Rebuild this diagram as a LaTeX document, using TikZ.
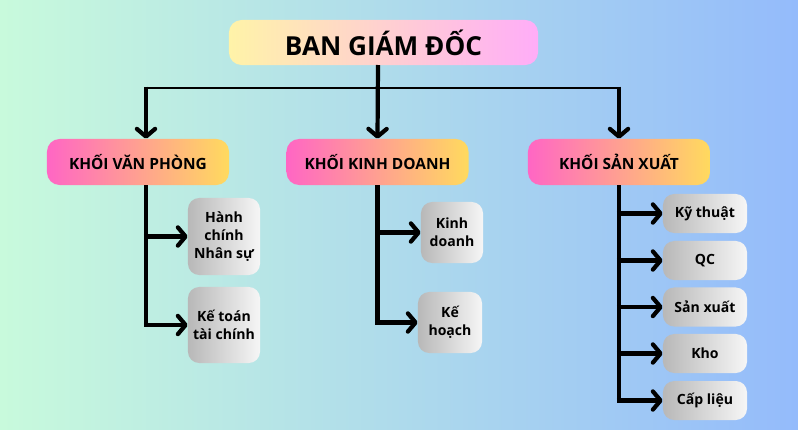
\documentclass[tikz,border=0pt]{standalone}
\usepackage{fontspec}
\setmainfont{Open Sans}
\usepackage{tikz}
\usetikzlibrary{arrows.meta, positioning, calc}
\definecolor{bgmint}{HTML}{C8FADC}
\definecolor{bgcyan}{HTML}{B4E0E8}
\definecolor{bgblue}{HTML}{94BBFB}
\definecolor{topyellow}{HTML}{FFF3A8}
\definecolor{toppink}{HTML}{FFADF8}
\definecolor{blockpink}{HTML}{FF66C4}
\definecolor{blockyellow}{HTML}{FFDA5E}
\definecolor{leafgray}{HTML}{B8B8B8}
\definecolor{leafwhite}{HTML}{F6F6F6}

\tikzset{
  topbox/.style={rounded corners=9pt, left color=topyellow, right color=toppink,
    minimum width=7.725cm, minimum height=1.125cm, inner sep=0pt,
    font=\fontsize{18.6}{22}\selectfont\bfseries},
  blockbox/.style={rounded corners=9pt, left color=blockpink, right color=blockyellow,
    minimum width=4.55cm, minimum height=1.15cm, inner sep=0pt,
    font=\fontsize{11}{13}\selectfont\bfseries},
  leafbox/.style={rounded corners=8pt, left color=leafgray, right color=leafwhite,
    inner sep=0pt, align=center,
    font=\fontsize{10}{13}\selectfont\bfseries},
  busline/.style={line width=1.8pt},
  linkline/.style={line width=3pt, -{Straight Barb[length=5.5pt,width=13pt,round]}},
  trunkline/.style={line width=3pt}
}

\begin{document}
\begin{tikzpicture}[x=0.025cm, y=-0.025cm]
  % Background with soft horizontal gradient
  \useasboundingbox (0,0) rectangle (798,429);
  \shade[left color=bgmint, middle color=bgcyan, right color=bgblue] (0,0) rectangle (798,429);

  % Top level
  \node[topbox] (bgd) at (383.5,42.5) {BAN GIÁM ĐỐC};

  % Second level blocks
  \node[blockbox] (vp) at (138,162) {KHỐI VĂN PHÒNG};
  \node[blockbox] (kd) at (377.5,162) {KHỐI KINH DOANH};
  \node[blockbox] (sx) at (619,162) {KHỐI SẢN XUẤT};

  % Leaves under Khoi Van Phong
  \node[leafbox, minimum width=1.8cm, minimum height=1.925cm] (hc) at (224,236.5) {Hành\\chính\\Nhân sự};
  \node[leafbox, minimum width=1.8cm, minimum height=1.9cm] (kt) at (224,325) {Kế toán\\tài chính};

  % Leaves under Khoi Kinh Doanh
  \node[leafbox, minimum width=1.55cm, minimum height=1.525cm] (kdoanh) at (452,232.5) {Kinh\\doanh};
  \node[leafbox, minimum width=1.6cm, minimum height=1.525cm] (kh) at (450,322.5) {Kế\\hoạch};

  % Leaves under Khoi San Xuat
  \node[leafbox, minimum width=2.1cm, minimum height=0.975cm] (kythuat) at (705,213.5) {Kỹ thuật};
  \node[leafbox, minimum width=2.1cm, minimum height=0.975cm] (qc) at (705,260.5) {QC};
  \node[leafbox, minimum width=2.1cm, minimum height=0.975cm] (sxuat) at (705,307) {Sản xuất};
  \node[leafbox, minimum width=2.1cm, minimum height=0.975cm] (kho) at (705,353.5) {Kho};
  \node[leafbox, minimum width=2.1cm, minimum height=0.975cm] (caplieu) at (705,400.5) {Cấp liệu};

  % Bus from the board down to the blocks
  \coordinate (bus) at (378,88);
  \coordinate (vpdrop) at (146,88);
  \coordinate (topdrop) at (378,65);
  \draw[busline] (vpdrop) -- (sx.north |- bus);
  \draw[linkline] (topdrop) -- (kd.north);
  \draw[linkline] ([yshift=0.9pt]vpdrop) -- (vpdrop |- vp.north);
  \draw[linkline] ([yshift=0.9pt]sx.north |- bus) -- (sx.north);

  % Van Phong branches
  \draw[trunkline] (vpdrop |- vp.south) -- (vpdrop |- kt.west);
  \draw[linkline] ([xshift=-1.5pt]vpdrop |- hc.west) -- (hc.west);
  \draw[linkline] ([xshift=-1.5pt]vpdrop |- kt.west) -- (kt.west);

  % Kinh Doanh branches
  \draw[trunkline] (kd.south) -- (kd.south |- kh.west);
  \draw[linkline] ([xshift=-1.5pt]kd.south |- kdoanh.west) -- (kdoanh.west);
  \draw[linkline] ([xshift=-1.5pt]kd.south |- kh.west) -- (kh.west);

  % San Xuat branches
  \draw[trunkline] (sx.south) -- (sx.south |- caplieu.west);
  \draw[linkline] ([xshift=-1.5pt]sx.south |- kythuat.west) -- (kythuat.west);
  \draw[linkline] ([xshift=-1.5pt]sx.south |- qc.west) -- (qc.west);
  \draw[linkline] ([xshift=-1.5pt]sx.south |- sxuat.west) -- (sxuat.west);
  \draw[linkline] ([xshift=-1.5pt]sx.south |- kho.west) -- (kho.west);
  \draw[linkline] ([xshift=-1.5pt]sx.south |- caplieu.west) -- (caplieu.west);
\end{tikzpicture}
\end{document}
